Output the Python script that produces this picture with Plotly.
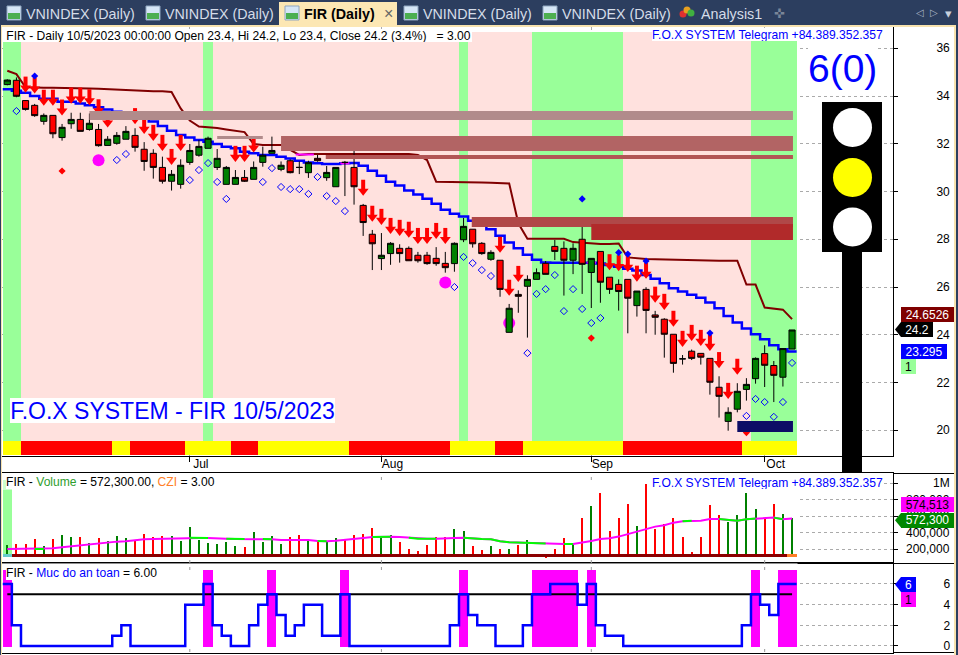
import plotly.graph_objects as go

# ---------- data ----------
opens = [34.48,34.66,33.81,33.61,32.94,33.19,32.26,32.84,33.02,32.60,32.60,31.93,32.02,32.19,32.35,31.77,31.60,31.01,30.43,30.30,
         31.22,31.52,31.81,31.01,30.30,30.30,30.59,30.51,31.22,31.60,30.93,31.29,31.01,30.79,31.39,30.58,30.20,31.22,31.01,29.42,
         28.21,27.19,27.40,27.62,27.62,27.33,27.33,27.20,26.99,26.98,27.98,28.42,27.83,27.16,27.12,24.10,25.69,26.03,26.32,26.99,
         27.70,27.62,27.12,28.00,26.61,27.49,26.41,26.11,26.32,25.22,25.90,24.83,24.65,24.02,22.99,23.31,23.22,23.01,21.80,20.37,
         20.88,21.71,22.16,23.21,22.71,22.22,23.4]
highs = [34.70,34.78,33.83,33.67,33.27,33.19,32.83,33.30,33.30,33.27,32.83,32.32,32.49,32.74,32.65,32.07,31.77,31.46,30.90,31.35,
         31.99,32.16,32.30,31.78,31.07,30.90,30.90,31.26,31.88,32.30,31.26,31.35,31.26,31.29,31.53,31.07,31.01,31.28,31.74,29.48,
         28.39,28.26,27.88,27.79,27.70,27.47,27.47,27.67,27.47,27.87,28.89,28.42,27.88,27.54,27.12,25.29,25.86,26.49,26.78,27.09,
         27.97,27.91,27.83,28.60,27.20,27.49,26.41,26.32,26.32,25.83,25.99,25.00,24.69,24.02,23.15,23.38,23.22,23.01,22.26,20.96,
         21.97,22.18,23.05,23.56,22.90,23.42,24.2]
lows = [34.45,33.95,33.39,33.13,32.80,32.23,32.13,32.63,32.52,32.55,31.88,31.93,31.96,32.19,31.67,30.87,30.54,30.33,30.04,30.12,
        31.12,31.46,31.81,30.90,30.30,30.30,30.40,30.51,31.04,31.60,30.85,30.76,30.73,30.57,31.25,30.45,30.20,29.81,29.45,28.14,
        26.71,26.71,26.93,27.02,27.10,27.02,26.93,26.89,26.60,26.64,27.88,27.65,27.35,27.10,25.59,24.10,24.92,23.88,26.32,26.53,
        27.13,25.64,26.54,25.71,25.12,25.34,25.71,25.01,24.06,24.76,24.06,24.00,23.04,22.41,22.75,22.94,22.75,21.49,20.53,19.98,
        20.75,21.24,21.95,21.81,21.18,21.83,23.4]
closes = [34.67,33.99,33.44,33.18,33.19,32.42,32.69,33.02,32.52,32.86,31.92,32.19,32.35,32.52,31.85,31.26,31.01,30.43,30.72,31.10,
          31.72,31.89,32.23,31.39,31.01,30.59,30.43,31.01,31.52,31.72,31.10,30.79,31.01,31.21,31.29,30.80,31.01,31.22,30.20,28.70,
          27.81,27.33,27.83,27.40,27.10,27.10,26.98,26.98,26.81,27.83,28.54,27.81,27.40,27.45,25.90,25.11,25.61,26.32,26.60,26.53,
          27.49,27.12,27.62,26.95,27.20,26.20,25.90,25.81,25.53,25.83,25.02,24.73,24.02,22.80,22.99,23.01,23.06,22.01,21.42,20.75,
          21.63,21.92,23.01,22.72,22.30,23.42,24.2]
blue_ma = [34.28,34.22,34.14,34.00,33.89,33.89,33.76,33.76,33.69,33.61,33.53,33.44,33.34,33.25,33.16,33.05,32.93,32.74,32.55,32.37,
           32.26,32.16,32.09,31.99,31.88,31.81,31.67,31.60,31.53,31.53,31.46,31.38,31.29,31.22,31.18,31.15,31.15,31.18,31.19,31.08,
           30.87,30.66,30.41,30.25,30.04,29.87,29.70,29.49,29.24,29.07,28.95,28.78,28.60,28.42,28.15,27.86,27.62,27.35,27.14,27.03,
           27.02,27.02,27.02,27.02,27.02,26.98,26.92,26.85,26.76,26.69,26.50,26.35,26.16,25.95,25.81,25.68,25.55,25.35,25.11,24.79,
           24.51,24.26,24.02,23.81,23.56,23.39,23.295]
maroon = [35.06,34.92,34.37,34.35,34.35,34.35,34.35,34.35,34.35,34.32,34.31,34.29,34.28,34.25,34.22,34.21,34.20,34.20,34.17,33.48,
          32.97,32.72,32.70,32.66,32.60,32.55,32.49,31.99,31.95,31.95,31.95,31.74,31.53,31.57,31.57,31.57,31.57,31.57,31.57,31.57,
          31.57,31.57,31.57,31.57,31.57,31.53,31.32,30.41,30.41,30.41,30.41,30.40,30.38,30.37,30.36,30.34,28.67,28.02,28.02,28.02,
          28.02,28.02,27.88,27.85,27.83,27.80,27.80,27.82,27.24,27.19,27.17,27.16,27.15,27.13,27.12,27.10,27.10,27.10,27.10,27.10,
          27.10,26.10,26.10,25.14,25.11,25.05,24.6526]
magenta_x = [31.6,33.6,None,36.5,37.5,None,63.5,64.5]
magenta_y = [31.55,31.55,None,31.18,31.18,None,27.02,27.02]

arrow_bars = [2,3,4,5,6,7,8,9,10,11,14,15,16,17,18,19,25,26,27,39,40,41,42,43,44,45,46,47,48,54,55,56,66,67,68,69,70,71,72,73,74,75,76,77,78,79,80]
arrow_tips = [34.15,34.11,33.60,33.60,33.19,33.69,33.69,33.62,33.20,32.69,32.83,32.42,32.13,31.71,31.12,31.71,31.25,31.25,31.64,
              29.83,28.74,28.61,28.23,28.15,28.07,27.81,27.81,28.02,27.81,27.44,25.64,26.22,
              26.71,26.67,26.64,26.23,26.35,25.35,25.05,24.34,23.50,23.75,23.54,23.33,22.61,21.32,22.33]
hollow_bars = [1,12,13,20,21,22,23,24,28,29,30,31,32,33,34,35,36,37,49,50,51,52,53,57,58,59,60,61,62,63,64,65,81,82,83,84,85,86]
hollow_vals = [33.37,31.32,31.57,30.48,30.90,31.19,30.40,29.69,30.40,30.98,30.19,30.10,30.10,29.90,30.61,29.81,29.60,29.18,
               26.00,27.26,27.00,26.71,26.46,23.23,25.71,25.91,26.50,24.99,25.91,25.08,24.49,24.70,20.60,21.31,21.18,20.56,21.18,22.82]
blue_dot_bars = [3,63,67,68,70,77]
blue_dot_vals = [34.84,29.69,27.44,27.38,27.09,24.07]
red_dot_bars = [6,64,81]
red_dot_vals = [30.86,23.86,19.9]
pink_dot_bars = [10,48,55]
pink_dot_vals = [31.31,26.19,24.49]

green_bars = [0,1,22,50]+list(range(58,68))+list(range(82,87))
red_ribbon = list(range(2,12))+list(range(14,20))+[25,26,27]+list(range(38,49))+[54,55,56]+list(range(68,81))

# zones: first bar, last bar, upper price, lower price, colour
zones = [(9,86.1,33.37,33.0,"#B18B8B"),(23,28,32.33,32.20,"#B18B8B"),(30,86.1,32.33,31.70,"#B26464"),
         (34.9,86.1,31.53,31.36,"#B25555"),(50.9,86.1,28.93,28.51,"#B04848"),(64,86.1,28.64,27.97,"#B12A2A"),
         (80,86.1,20.39,19.93,"#0D0D66")]

volume = [252.5,264.6,264.6,325.2,240.4,325.2,373.7,349.5,349.5,276.8,337.4,301,361.6,337.4,313.1,385.8,349.5,361.6,361.6,301,
          470.7,313.1,276.8,264.6,288.9,240.4,228.3,410.1,288.9,361.6,264.6,349.5,373.7,325.2,301,288.9,337.4,325.2,373.7,385.8,
          458.6,349.5,373.7,288.9,204,179.8,252.5,349.5,349.5,446.4,422.2,240.4,192,240.4,204,204,252.5,313.1,143.4,119.2,
          204,337.4,264.6,579.8,725.2,882.8,422.2,579.8,749.4,482.8,991.8,446.4,507,579.8,349.5,167.7,349.5,737.3,616.1,531.3,
          616.1,882.8,688.8,567.6,749.4,628.2,572.3]
vol_dir = list("grrrgrggrg"+"rgggrrrrgg"+"ggggggrggg"+"grrgrggrrr"+"rggrrrrrrg"+"gr"+"rgrgrggrrr"+"grgrrrrgrr"+"rrrrrrrggg"+"grrgg")
vol_ma = [204,204,204,204,204,212,224,236,244,253,265,277,293,297,313,321,325,329,333,337,341,337,337,337,329,325,325,329,325,321,
          313,313,317,313,301,297,305,313,325,337,349,353,353,349,341,329,329,329,329,337,341,329,325,321,297,285,281,281,269,269,
          265,265,265,281,301,325,333,354,386,414,446,475,491,523,539,547,547,568,568,556,547,564,572,572,584,564,574.5]
vol_ma_green = [3,4,20,21,22,24,25,26,28,29,34,35,40,41,42,44,45,46,47]+list(range(50,60))+[61,62,74,75,78,79,80,81,82,84,85]
vol_ticks = [200000,400000,600000,800000,1000000]
vol_tick_text = ["200,000","400,000","600,000","800,000","1M"]

safety = [6,2,0,0,0,0,0,0,0,0,0,0,1,2,0,0,0,0,0,0,4,4,6,2,1,0,0,2,4,5,3,1,2,4,4,1,1,5,0,0,0,0,0,0,0,0,0,0,0,2,5,3,2,2,0,0,0,2,5,5,
          6,6,6,4,6,2,1,1,0,0,0,0,0,0,0,0,0,0,0,0,0,2,5,4,3,6,6]
danger_bars = [0,22,29,37,50,58,59,60,61,62,64,82,85,86]
safe_level = [5]*87
bars = list(range(87))

month_ticks = [20,41,64,83]
month_names = ["Jul","Aug","Sep","Oct"]
price_ticks = [20,22,24,26,28,30,32,34,36]
safety_ticks = [0,2,4,6]

# ---------- helpers ----------
W, H = 958, 655
FONT = "Liberation Sans"
xp = lambda px: px/W
yp = lambda py: 1-py/H
X_RANGE = [(2-7.3)/9.125,(893-7.3)/9.125]
PRICE_RANGE = [18.92,36.892]
VOL_RANGE = [30300,1121200]
SAFE_RANGE = [-0.65,8.0]
BG_BOTTOM,BG_TOP = 19.55,36.68
RIB_BOTTOM = 18.97
VOL_BASE,STRIP_TOP = 99000,143000

shapes, annotations = [], []

def rect(l,t,r,b,fill,line=None,layer="above"):
    shapes.append(dict(type="rect",xref="paper",yref="paper",x0=xp(l),x1=xp(r),y0=yp(b),y1=yp(t),
                       fillcolor=fill,line=dict(width=1 if line else 0,color=line or fill),layer=layer))
def circle(cx,cy,r,fill):
    shapes.append(dict(type="circle",xref="paper",yref="paper",x0=xp(cx-r),x1=xp(cx+r),y0=yp(cy+r),y1=yp(cy-r),
                       fillcolor=fill,line=dict(width=0)))
def text(s,x,y,size=12,color="#000",anchor="left",family=FONT,bg=None,width=None,height=None,align=None,va="middle"):
    d=dict(text=s,xref="paper",yref="paper",x=xp(x),y=yp(y),xanchor=anchor,yanchor=va,showarrow=False,
           font=dict(family=family,size=size,color=color),borderpad=0,borderwidth=0)
    if bg: d["bgcolor"]=bg
    if width: d["width"]=width
    if height: d["height"]=height
    if align: d["align"]=align
    annotations.append(d)
def tag(s,l,t,r,b,bg,fg,tip=None):
    if tip is not None:
        shapes.append(dict(type="path",xref="paper",yref="paper",
            path=f"M {xp(tip)},{yp((t+b)/2)} L {xp(l)},{yp(t)} L {xp(l)},{yp(b)} Z",fillcolor=bg,line=dict(width=0)))
    text(s,(l+r)/2,(t+b)/2,12,fg,"center",bg=bg,width=r-l,height=b-t,align="center")

# ---------- traces ----------
fig = go.Figure()
fig.add_trace(go.Bar(x=bars,y=[BG_TOP-BG_BOTTOM]*87,base=BG_BOTTOM,width=1,
    marker=dict(color=["#99FF99" if i in green_bars else "#FFE1DE" for i in bars],line_width=0),xaxis="x",yaxis="y"))
fig.add_trace(go.Bar(x=bars,y=[BG_BOTTOM-RIB_BOTTOM]*87,base=RIB_BOTTOM,width=1,
    marker=dict(color=["#FF0000" if i in red_ribbon else "#FFFF00" for i in bars],line_width=0),xaxis="x",yaxis="y"))
fig.add_trace(go.Scatter(x=pink_dot_bars,y=pink_dot_vals,mode="markers",marker=dict(symbol="circle",size=12,color="#FF00FF",line_width=0),xaxis="x",yaxis="y"))
fig.add_trace(go.Scatter(x=bars,y=maroon,mode="lines",line=dict(color="#800000",width=2),xaxis="x",yaxis="y"))
fig.add_trace(go.Scatter(x=[-0.5]+bars+[86.5],y=[blue_ma[0]]+blue_ma+[blue_ma[-1]],mode="lines",line=dict(color="#0000FF",width=2.5,shape="hvh"),xaxis="x",yaxis="y"))
fig.add_trace(go.Scatter(x=magenta_x,y=magenta_y,mode="lines",line=dict(color="#FF00FF",width=2),connectgaps=False,xaxis="x",yaxis="y"))
# overlay subplot so candles sit over the lines
fig.add_trace(go.Candlestick(x=bars,open=opens,high=highs,low=lows,close=closes,
    increasing=dict(line=dict(color="#000000",width=1),fillcolor="#008000"),
    decreasing=dict(line=dict(color="#000000",width=1),fillcolor="#FF0000"),
    whiskerwidth=0,xaxis="x",yaxis="y4"))
fig.add_trace(go.Scatter(x=hollow_bars,y=hollow_vals,mode="markers",marker=dict(symbol="diamond-open",size=5.5,color="#0000FF",line=dict(width=1,color="#0000FF")),xaxis="x",yaxis="y4"))
fig.add_trace(go.Scatter(x=arrow_bars,y=[v+0.40 for v in arrow_tips],mode="markers",marker=dict(symbol="line-ns",size=9,color="#FF0000",line=dict(width=4,color="#FF0000")),xaxis="x",yaxis="y4"))
fig.add_trace(go.Scatter(x=arrow_bars,y=[v+0.19 for v in arrow_tips],mode="markers",marker=dict(symbol="triangle-down",size=9.5,color="#FF0000",line_width=0),xaxis="x",yaxis="y4"))
fig.add_trace(go.Scatter(x=blue_dot_bars,y=blue_dot_vals,mode="markers",marker=dict(symbol="diamond",size=5.5,color="#0000FF",line_width=0),xaxis="x",yaxis="y4"))
fig.add_trace(go.Scatter(x=red_dot_bars,y=red_dot_vals,mode="markers",marker=dict(symbol="diamond",size=5.5,color="#FF0000",line_width=0),xaxis="x",yaxis="y4"))

# volume pane
fig.add_trace(go.Bar(x=[0],y=[919000-STRIP_TOP],base=STRIP_TOP,width=1,marker=dict(color="#99FF99",line_width=0),xaxis="x2",yaxis="y2"))
fig.add_trace(go.Bar(x=[0],y=[1040000-919000],base=919000,width=1,marker=dict(color="#CCFFCC",line_width=0),xaxis="x2",yaxis="y2"))
fig.add_trace(go.Bar(x=bars,y=[v*1000-VOL_BASE for v in volume],base=VOL_BASE,width=0.22,
    marker=dict(color=["#008000" if d=="g" else "#FF0000" for d in vol_dir],line_width=0),xaxis="x2",yaxis="y2"))
fig.add_trace(go.Bar(x=bars,y=[STRIP_TOP-VOL_BASE]*87,base=VOL_BASE,width=1,
    marker=dict(color=["#66CCCC"]+["#8B0000"]*85+["#FF7F27"],line_width=0),xaxis="x2",yaxis="y2"))
fig.add_trace(go.Scatter(x=bars,y=[v*1000 for v in vol_ma],mode="lines",line=dict(color="#FF00FF",width=2),xaxis="x2",yaxis="y2"))
fig.add_trace(go.Scatter(x=bars,y=[v*1000 if i in vol_ma_green else None for i,v in enumerate(vol_ma)],mode="lines",
    line=dict(color="#00FF00",width=2),xaxis="x2",yaxis="y2"))

# safety pane
fig.add_trace(go.Bar(x=danger_bars,y=[7.51]*len(danger_bars),base=-0.16,width=1,marker=dict(color="#FF00FF",line_width=0),xaxis="x3",yaxis="y3"))
fig.add_trace(go.Scatter(x=bars,y=safe_level,mode="lines",line=dict(color="#000000",width=2),xaxis="x3",yaxis="y3"))
fig.add_trace(go.Scatter(x=[-0.5]+bars+[86.5],y=[safety[0]]+safety+[safety[-1]],mode="lines",line=dict(color="#0000FF",width=2.5,shape="hvh"),xaxis="x3",yaxis="y3"))

# ---------- price zones (above the traces) ----------
for a,b,top,bot,c in zones:
    shapes.append(dict(type="rect",xref="x",yref="y",x0=a-0.0,x1=b,y0=bot,y1=top,fillcolor=c,line=dict(width=0),layer="above"))

# white underlay in lower panes hides horizontal grid under the chart body
for xr,yr,rg in (("x2","y2",VOL_RANGE),("x3","y3",SAFE_RANGE)):
    shapes.append(dict(type="rect",xref=xr,yref=yr,x0=X_RANGE[0],x1=86.6,y0=rg[0],y1=rg[1],fillcolor="#FFFFFF",line=dict(width=0),layer="between"))

# little dotted month marks at pane edges
for m in month_ticks:
    for t,b in ((474,480),(558,563),(564,570),(648,652)):
        shapes.append(dict(type="line",xref="x",yref="paper",x0=m,x1=m,y0=yp(b),y1=yp(t),line=dict(color="#999999",width=1,dash="dot")))

# ---------- chrome ----------
rect(0,0,958,25,"#2C3E5F")
rect(0,25,958,27,"#F7E2AE")
rect(0,25,2,655,"#F7E2AE")
rect(954,25,956,655,"#F7E2AE")
rect(956,0,958,655,"#2C3E5F")
rect(0,0,1,655,"#2C3E5F")
rect(279,2,397,27,"#FCE7B4")
rect(893,563,954,564,"#000000")
rect(893,652,954,653,"#000000")
rect(893,473,954,474,"#000000")
for ix in (7,146,285,404,543):
    rect(ix,6,ix+14,20,"#D6E6F6","#8FA6C0")
    rect(ix+1,13,ix+13,19,"#4CAF50")
for cx,cy,c in ((683,14,"#E03030"),(687,10,"#E8A020"),(691,13,"#40B040")):
    circle(cx,cy,3.5,c)
TAB="#D5DCE8"
for lx,s in ((26,"VNINDEX (Daily)"),(165,"VNINDEX (Daily)"),(423,"VNINDEX (Daily)"),(562,"VNINDEX (Daily)"),(701,"Analysis1")):
    text(s,lx,13.5,14.3,TAB)
text("<b>FIR (Daily)</b>",304,13.5,14.3,"#000000")
text("×",388,13,16,"#666666","center")
text("✜",779,13,13,"#7A8699","center",family="DejaVu Sans")
text("◁",920,12,10,"#AAB4C4","center",family="DejaVu Sans")
text("▷",934,12,10,"#AAB4C4","center",family="DejaVu Sans")
text("▾",948,13,13,"#C8D0DC","center",family="DejaVu Sans")

# traffic light
rect(842,240,862,472,"#000000")
rect(822,102,882,252,"#000000")
circle(852.5,127.5,19.5,"#FFFFFF")
circle(852.5,177.5,19.5,"#FFFF00")
circle(852.5,227,19.5,"#FFFFFF")

# headers
text("&nbsp;FIR - Daily 10/5/2023 00:00:00 Open 23.4, Hi 24.2, Lo 23.4, Close 24.2 (3.4%) &nbsp; = 3.00",3,35.5,12.1,"#000",bg="#FFFFFF",width=469,height=13,align="left")
text("F.O.X SYSTEM Telegram +84.389.352.357",652,35,12.1,"#0000FF",bg="#FFFFFF",width=231,height=13,align="left")
text("F.O.X SYSTEM Telegram +84.389.352.357",652,482.5,12.1,"#0000FF",bg="#FFFFFF",width=231,height=13,align="left")
text('FIR - <span style="color:#2E9E2E">Volume</span> = 572,300.00, <span style="color:#FF7F27">CZI</span> = 3.00',6,482.5,12.1,"#000",bg="#FFFFFF")
text('FIR - <span style="color:#0000FF">Muc do an toan</span> = 6.00',6,572.5,12.1,"#000",bg="#FFFFFF")
text("6(0)",842.5,68,39,"#0000FF","center",bg="#FFFFFF")
text("F.O.X SYSTEM - FIR 10/5/2023",10,410,23,"#0000FF",bg="#FFFFFF",width=325,height=25,align="center")

# volume tick labels
for v,s in zip(vol_ticks,vol_tick_text):
    py=549.3-(v-200000)/12121.2
    text(s,950,py,12,"#000","right")

# value tags
tag("24.6526",901,307,954,322,"#7F0000","#FFFFFF")
tag("24.2",901,322,933,337,"#000000","#FFFFFF",tip=895)
tag("23.295",901,344,947,359,"#0000FF","#FFFFFF")
tag("1",901,359,916,374,"#99FF99","#000000")
tag("574,513",901,497,954,512,"#FF00FF","#000000")
tag("572,300",901,513,954,527.5,"#008800","#FFFFFF",tip=895)
tag("6",901,577,916,592,"#0000FF","#FFFFFF",tip=895)
tag("1",901,592,916,607,"#FF00FF","#000000")

# ---------- layout ----------
def dom(top,bot): return [1-bot/H,1-top/H]
XD=[2/W,893/W]
GRID="#AAAAAA"
fig.update_layout(
    width=W,height=H,autosize=False,margin=dict(l=0,r=0,t=0,b=0),paper_bgcolor="#FFFFFF",plot_bgcolor="#FFFFFF",
    showlegend=False,hovermode=False,barmode="overlay",bargap=0,boxgap=0.33,boxgroupgap=0,dragmode=False,
    font=dict(family=FONT,size=12,color="#000000"),
    shapes=shapes,annotations=annotations,
    xaxis=dict(domain=XD,range=X_RANGE,anchor="y",tickmode="array",tickvals=month_ticks,ticktext=month_names,ticks="outside",ticklen=5,tickcolor="#000",
               showline=True,linecolor="#000",linewidth=1,showgrid=True,gridcolor=GRID,griddash="dot",gridwidth=1,rangeslider=dict(visible=False),
               zeroline=False,ticklabelshift=11,ticklabelstandoff=-8,tickfont=dict(size=12)),
    xaxis2=dict(domain=XD,range=X_RANGE,anchor="y2",matches="x",showticklabels=False,showline=True,mirror=True,linecolor="#000",linewidth=1,showgrid=False,zeroline=False,ticks=""),
    xaxis3=dict(domain=XD,range=X_RANGE,anchor="y3",matches="x",showticklabels=False,showline=True,mirror=True,linecolor="#000",linewidth=1,showgrid=False,zeroline=False,ticks=""),
    yaxis=dict(domain=dom(27,456),range=PRICE_RANGE,anchor="x",side="right",tickvals=price_ticks,ticks="outside",ticklen=4,tickcolor="#000",showline=True,linecolor="#000",linewidth=1,
               showgrid=True,gridcolor=GRID,griddash="dot",zeroline=False,ticklabelstandoff=36),
    yaxis4=dict(domain=dom(27,456),range=PRICE_RANGE,anchor="x",overlaying="y",side="right",visible=False,showgrid=False),
    yaxis2=dict(domain=dom(473.3,563.3),range=VOL_RANGE,anchor="x2",side="right",tickvals=vol_ticks,ticks="outside",ticklen=4,tickcolor="#000",showticklabels=False,
               showline=True,linecolor="#000",linewidth=1,showgrid=True,gridcolor=GRID,griddash="dot",zeroline=False),
    yaxis3=dict(domain=dom(563.3,652.7),range=SAFE_RANGE,anchor="x3",side="right",tickvals=safety_ticks,ticks="outside",ticklen=4,tickcolor="#000",
               showline=True,linecolor="#000",linewidth=1,showgrid=True,gridcolor=GRID,griddash="dot",zeroline=False,ticklabelstandoff=43),
)
fig.write_html("out.html",config=dict(displayModeBar=False),
    post_script="document.body.style.margin='0';document.documentElement.style.overflow='hidden';")
